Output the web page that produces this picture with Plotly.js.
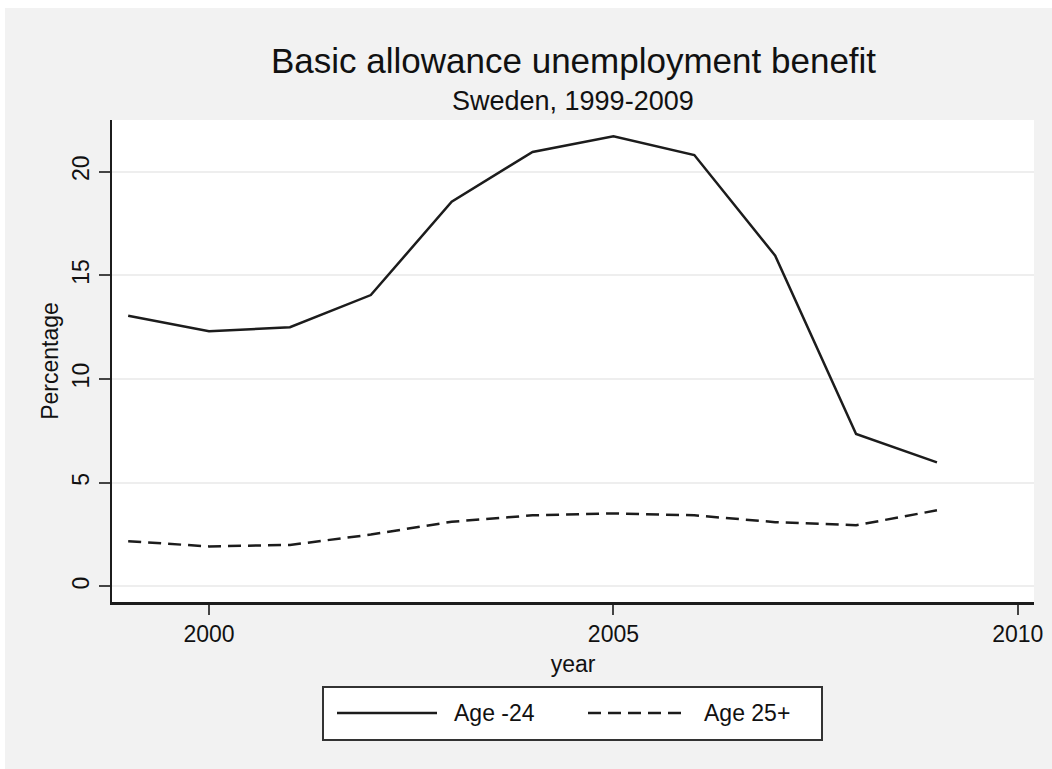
<!DOCTYPE html>
<html>
<head>
<meta charset="utf-8">
<script src="https://cdn.plot.ly/plotly-3.0.1.min.js"></script>
<style>
  html, body { margin: 0; padding: 0; background: #ffffff; }
  #chart { position: absolute; left: 5px; top: 8px; width: 1047px; height: 761px; }
</style>
</head>
<body>
<div id="chart"></div>
<script>
// Basic allowance unemployment benefit, Sweden 1999-2009 (percentage)
const years = [1999, 2000, 2001, 2002, 2003, 2004, 2005, 2006, 2007, 2008, 2009];
const ageUnder25 = [13.05, 12.3, 12.5, 14.05, 18.55, 20.95, 21.7, 20.8, 15.95, 7.35, 5.98];
const age25Plus = [2.18, 1.93, 2.0, 2.5, 3.12, 3.43, 3.52, 3.43, 3.1, 2.95, 3.67];
const seriesNames = ["Age -24", "Age 25+"];
const xTicks = [2000, 2005, 2010];
const yTicks = [0, 5, 10, 15, 20];

const W = 1047, H = 761;
const M = { l: 107, r: 18, t: 112, b: 167 };
const PW = W - M.l - M.r, PH = H - M.t - M.b;
// convert div pixel coordinates to plot-area paper fractions
const px = x => (x - M.l) / PW;
const py = y => (M.t + PH - y) / PH;

const FONT = "Liberation Sans, Arial, Helvetica, sans-serif";
const INK = "#1c1c1c";

const traces = [
  { x: years, y: ageUnder25, name: seriesNames[0], type: "scatter", mode: "lines",
    line: { color: INK, width: 2.5 }, showlegend: false },
  { x: years, y: age25Plus, name: seriesNames[1], type: "scatter", mode: "lines",
    line: { color: INK, width: 2.5, dash: "13px,7px" }, showlegend: false }
];

// legend box drawn below the plot
const lgTop = 679, lgBot = 732, lgLeft = 318, lgRight = 817, lgMid = 705;
const shapes = [
  { type: "rect", xref: "paper", yref: "paper",
    x0: px(lgLeft), x1: px(lgRight), y0: py(lgBot), y1: py(lgTop),
    fillcolor: "#ffffff", line: { color: "#333333", width: 2 } },
  { type: "line", xref: "paper", yref: "paper",
    x0: px(332), x1: px(432), y0: py(lgMid), y1: py(lgMid),
    line: { color: INK, width: 2.5 } },
  { type: "line", xref: "paper", yref: "paper",
    x0: px(583), x1: px(683), y0: py(lgMid), y1: py(lgMid),
    line: { color: INK, width: 2.5, dash: "13px,7px" } }
];

const annotations = [
  { text: "Basic allowance unemployment benefit", xref: "paper", yref: "paper",
    x: 0.5, y: py(52), xanchor: "center", yanchor: "middle", showarrow: false,
    font: { family: FONT, size: 35, color: "#111111" } },
  { text: "Sweden, 1999-2009", xref: "paper", yref: "paper",
    x: 0.5, y: py(93), xanchor: "center", yanchor: "middle", showarrow: false,
    font: { family: FONT, size: 27, color: "#111111" } },
  { text: seriesNames[0], xref: "paper", yref: "paper",
    x: px(447), y: py(lgMid), xanchor: "left", yanchor: "middle", showarrow: false,
    font: { family: FONT, size: 23, color: "#111111" } },
  { text: seriesNames[1], xref: "paper", yref: "paper",
    x: px(697), y: py(lgMid), xanchor: "left", yanchor: "middle", showarrow: false,
    font: { family: FONT, size: 23, color: "#111111" } }
];

const layout = {
  width: W, height: H,
  margin: M,
  paper_bgcolor: "#f2f2f2",
  plot_bgcolor: "#ffffff",
  showlegend: false,
  font: { family: FONT, color: "#111111" },
  xaxis: {
    range: [1998.80, 2010.20], tickvals: xTicks, ticktext: xTicks.map(String),
    ticks: "outside", ticklen: 10, tickwidth: 2, tickcolor: "#444444",
    showline: true, linecolor: INK, linewidth: 2.5,
    showgrid: false, zeroline: false,
    tickfont: { family: FONT, size: 23, color: "#111111" },
    title: { text: "year", font: { family: FONT, size: 23, color: "#111111" }, standoff: 10 }
  },
  yaxis: {
    range: [-0.75, 22.49], tickvals: yTicks, ticktext: yTicks.map(String), tickangle: -90,
    ticks: "outside", ticklen: 11, tickwidth: 2, tickcolor: "#444444",
    showline: true, linecolor: INK, linewidth: 2.5,
    showgrid: true, gridcolor: "#eeeeee", gridwidth: 2, zeroline: false,
    tickfont: { family: FONT, size: 23, color: "#111111" },
    title: { text: "Percentage", font: { family: FONT, size: 23, color: "#111111" }, standoff: 3 }
  },
  shapes: shapes,
  annotations: annotations
};

Plotly.newPlot("chart", traces, layout, { displayModeBar: false, staticPlot: true });
</script>
</body>
</html>
